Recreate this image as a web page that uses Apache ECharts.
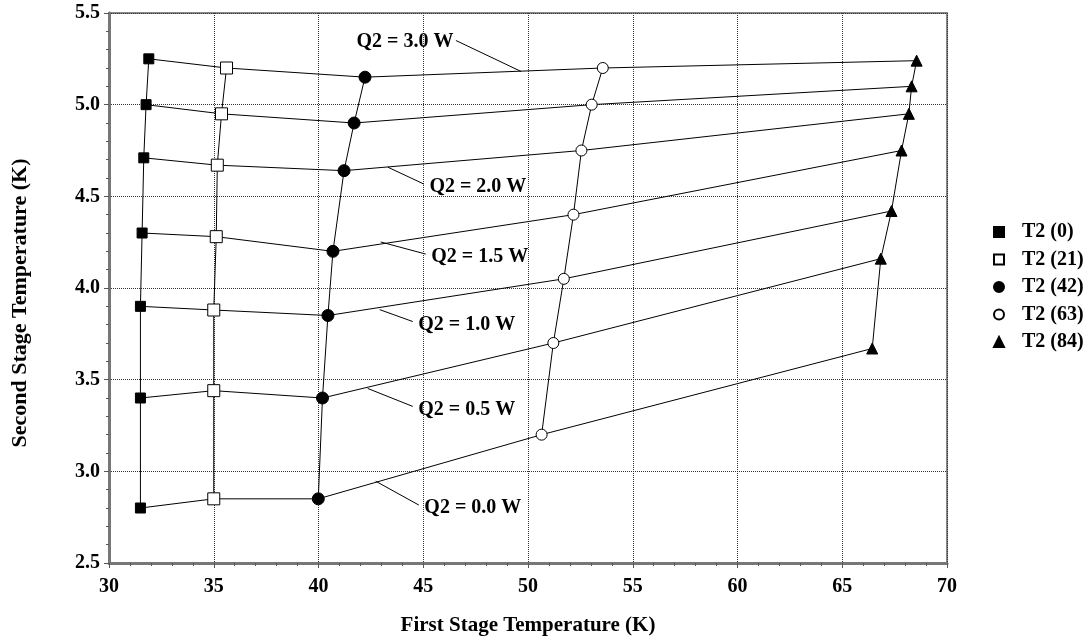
<!DOCTYPE html>
<html>
<head>
<meta charset="utf-8">
<script src="https://cdn.jsdelivr.net/npm/echarts@6/dist/echarts.min.js"></script>
<style>
  html, body { margin: 0; padding: 0; background: #fff; }
  #main { width: 1090px; height: 641px; }
</style>
</head>
<body>
<div id="main"></div>
<script>
// heat loads on the second stage, bottom to top
var q2Loads = [0.0, 0.5, 1.0, 1.5, 2.0, 2.5, 3.0];

// one curve per first stage heater setting (legend names)
var t2Names = ['T2 (0)', 'T2 (21)', 'T2 (42)', 'T2 (63)', 'T2 (84)'];

// first stage temperature (K), Q2 = 0.0 ... 3.0 W
var t1_0  = [31.50, 31.50, 31.50, 31.58, 31.66, 31.77, 31.90];
var t1_21 = [35.00, 35.00, 35.00, 35.12, 35.17, 35.37, 35.61];
var t1_42 = [39.99, 40.19, 40.45, 40.69, 41.22, 41.70, 42.22];
var t1_63 = [50.65, 51.21, 51.71, 52.17, 52.55, 53.04, 53.57];
var t1_84 = [66.43, 66.84, 67.35, 67.83, 68.18, 68.31, 68.55];

// second stage temperature (K), Q2 = 0.0 ... 3.0 W
var t2_0  = [2.80, 3.40, 3.90, 4.30, 4.71, 5.00, 5.25];
var t2_21 = [2.85, 3.44, 3.88, 4.28, 4.67, 4.95, 5.20];
var t2_42 = [2.85, 3.40, 3.85, 4.20, 4.64, 4.90, 5.15];
var t2_63 = [3.20, 3.70, 4.05, 4.40, 4.75, 5.00, 5.20];
var t2_84 = [3.67, 4.16, 4.42, 4.75, 4.95, 5.10, 5.24];

var t1Cols = [t1_0, t1_21, t1_42, t1_63, t1_84];
var t2Cols = [t2_0, t2_21, t2_42, t2_63, t2_84];

// callout labels: text, point on the curve, end of the leader line
var calloutText = ['Q2 = 0.0 W', 'Q2 = 0.5 W', 'Q2 = 1.0 W', 'Q2 = 1.5 W', 'Q2 = 2.0 W', 'Q2 = 3.0 W'];
var calloutFrom = [[42.73, 2.946], [42.35, 3.452], [42.92, 3.882], [42.97, 4.251], [43.31, 4.659], [49.67, 5.181]];
var calloutTo   = [[44.79, 2.816], [44.50, 3.354], [44.50, 3.817], [45.12, 4.185], [45.03, 4.567], [46.56, 5.350]];

var xTicks = { min: 30, max: 70, step: 5 };
var yTicks = { min: 2.5, max: 5.5, step: 0.5 };

var serif = 'Liberation Serif';
var markerStyles = [
  { symbol: 'rect', size: 10, fill: '#000' },
  { symbol: 'rect', size: 12, fill: '#fff' },
  { symbol: 'circle', size: 12, fill: '#000' },
  { symbol: 'circle', size: 11, fill: '#fff' },
  { symbol: 'triangle', size: 11, fill: '#000' }
];

var series = [];

// constant-Q2 lines through the five T2 curves
q2Loads.forEach(function (q, i) {
  series.push({
    type: 'line',
    name: 'q' + q,
    z: 2,
    symbol: 'none',
    silent: true,
    lineStyle: { color: '#000', width: 1 },
    data: t1Cols.map(function (col, k) { return [col[i], t2Cols[k][i]]; })
  });
});

// leader lines of the callouts
calloutFrom.forEach(function (p, i) {
  series.push({
    type: 'line',
    name: 'lead' + i,
    z: 2,
    symbol: 'none',
    silent: true,
    lineStyle: { color: '#000', width: 1 },
    data: [p, calloutTo[i]]
  });
});

// callout text
series.push({
  type: 'scatter',
  name: 'callouts',
  z: 5,
  symbolSize: 1,
  silent: true,
  itemStyle: { color: 'rgba(0,0,0,0)', opacity: 1 },
  data: calloutTo.map(function (p, i) {
    var left = p[0] > 46;
    return {
      value: p,
      label: {
        show: true,
        formatter: calloutText[i],
        position: left ? 'left' : 'right',
        distance: left ? 2 : 5,
        offset: left ? [0, 1] : [0, 3],
        fontFamily: serif,
        fontWeight: 'bold',
        fontSize: 20,
        color: '#000',
        opacity: 1
      }
    };
  })
});

// constant-T2 curves with markers
t2Names.forEach(function (name, k) {
  var m = markerStyles[k];
  series.push({
    type: 'line',
    name: name,
    z: 4,
    symbol: m.symbol,
    symbolSize: m.size,
    showAllSymbol: true,
    lineStyle: { color: '#000', width: 1 },
    itemStyle: { color: m.fill, borderColor: '#000', borderWidth: 1 },
    data: t1Cols[k].map(function (x, i) { return [x, t2Cols[k][i]]; })
  });
});

var chart = echarts.init(document.getElementById('main'), null, { renderer: 'canvas' });

chart.setOption({
  animation: false,
  backgroundColor: '#fff',
  grid: {
    left: 109, right: 143, top: 13, bottom: 76,
    show: true, borderColor: '#888', borderWidth: 2
  },
  legend: {
    orient: 'vertical',
    left: 988,
    top: 217,
    itemWidth: 10,
    itemHeight: 10,
    itemGap: 7.5,
    selectedMode: false,
    textStyle: {
      fontFamily: serif, fontWeight: 'bold', fontSize: 20, color: '#000',
      lineHeight: 20, padding: [0, 0, 0, 13]
    },
    data: t2Names.map(function (n, k) {
      return { name: n, icon: markerStyles[k].symbol };
    })
  },
  xAxis: {
    type: 'value',
    min: xTicks.min, max: xTicks.max, interval: xTicks.step,
    name: 'First Stage Temperature (K)',
    nameLocation: 'middle',
    nameGap: 52,
    nameTextStyle: { fontFamily: serif, fontWeight: 'bold', fontSize: 21, color: '#000' },
    axisLine: { lineStyle: { color: '#777', width: 3 } },
    axisTick: { length: 5, lineStyle: { color: '#555' } },
    minorTick: { show: true, splitNumber: 5, length: 3, lineStyle: { color: '#555' } },
    axisLabel: { fontFamily: serif, fontWeight: 'bold', fontSize: 20, color: '#000', margin: 14 },
    splitLine: { show: true, lineStyle: { color: '#333', type: [1, 1], width: 1 } }
  },
  yAxis: {
    type: 'value',
    min: yTicks.min, max: yTicks.max, interval: yTicks.step,
    name: 'Second Stage Temperature (K)',
    nameLocation: 'middle',
    nameGap: 78,
    nameTextStyle: { fontFamily: serif, fontWeight: 'bold', fontSize: 22, color: '#000', padding: [0, 30, 0, 0] },
    axisLine: { lineStyle: { color: '#777', width: 3 } },
    axisTick: { length: 5, lineStyle: { color: '#555' } },
    minorTick: { show: true, splitNumber: 5, length: 3, lineStyle: { color: '#555' } },
    axisLabel: {
      fontFamily: serif, fontWeight: 'bold', fontSize: 20, color: '#000', margin: 9,
      formatter: function (v) { return v.toFixed(1); }
    },
    splitLine: { show: true, lineStyle: { color: '#333', type: [1, 1], width: 1 } }
  },
  series: series
});
</script>
</body>
</html>
